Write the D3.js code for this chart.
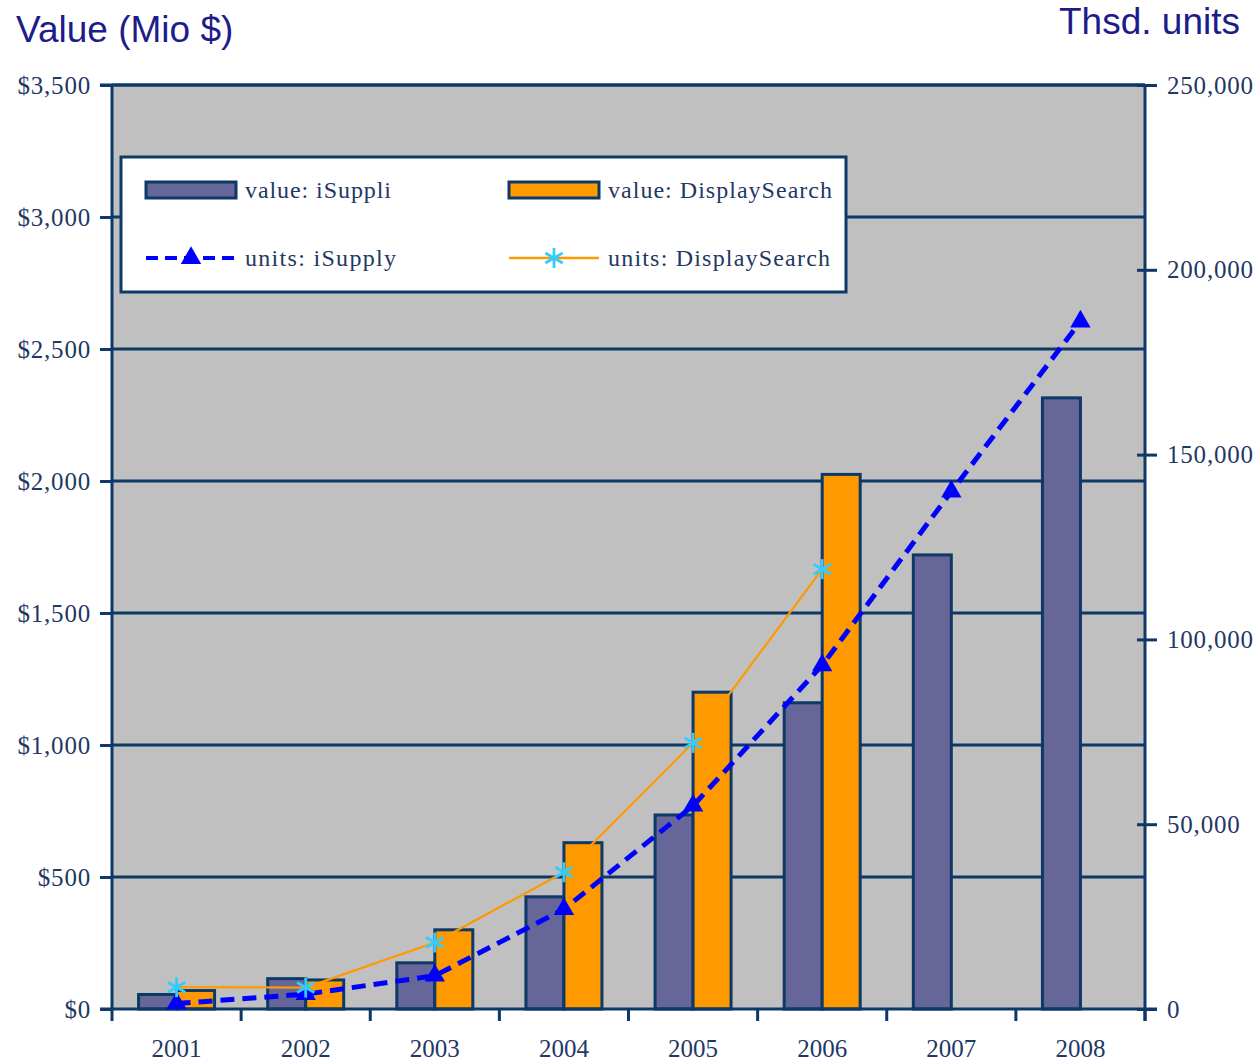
<!DOCTYPE html>
<html>
<head>
<meta charset="utf-8">
<script src="https://cdn.jsdelivr.net/npm/d3@7"></script>
<style>
  html, body { margin: 0; padding: 0; background: #ffffff; }
  svg { display: block; }
</style>
</head>
<body>
<svg id="chart" width="1259" height="1063"></svg>
<script>
// Years on the category axis
const years = ["2001", "2002", "2003", "2004", "2005", "2006", "2007", "2008"];

// Market value, million US$
const valueISuppli = [55, 115, 175, 425, 735, 1160, 1720, 2315];
const valueDisplaySearch = [70, 110, 300, 630, 1200, 2025, null, null];

// Shipments, thousand units
const unitsISupply = [1500, 4000, 9000, 27000, 55000, 93000, 140000, 186000];
const unitsDisplaySearch = [5900, 5800, 18000, 37000, 72000, 119000, null, null];

// Tick values
const valueTicks = [0, 500, 1000, 1500, 2000, 2500, 3000, 3500];
const unitTicks = [0, 50000, 100000, 150000, 200000, 250000];

const navy = "#0d3868";
const textNavy = "#1f3864";
const titleBlue = "#1c1c8a";
const purple = "#666699";
const orange = "#ff9900";
const blue = "#0000ff";
const cyan = "#33ccff";
const serif = "'Liberation Serif', 'Times New Roman', serif";

const svg = d3.select("#chart");
const plot = { left: 112, right: 1145, top: 85, bottom: 1009 };

const x = d3.scaleBand().domain(years).range([plot.left, plot.right]).padding(0);
const yVal = d3.scaleLinear().domain([0, 3500]).range([plot.bottom, plot.top]);
const yUnits = d3.scaleLinear().domain([0, 250000]).range([plot.bottom, plot.top]);

// Plot background
svg.append("rect")
  .attr("x", plot.left).attr("y", plot.top)
  .attr("width", plot.right - plot.left).attr("height", plot.bottom - plot.top)
  .attr("fill", "#c0c0c0");

// Horizontal gridlines on the value scale
svg.append("g").selectAll("line")
  .data(valueTicks.slice(1))
  .join("line")
  .attr("x1", plot.left).attr("x2", plot.right)
  .attr("y1", d => yVal(d)).attr("y2", d => yVal(d))
  .attr("stroke", navy).attr("stroke-width", 3);

// Bars
const barW = 38;
const bars = svg.append("g");
years.forEach((yr, i) => {
  const cx = x(yr) + x.bandwidth() / 2;
  bars.append("rect")
    .attr("x", cx - barW).attr("y", yVal(valueISuppli[i]))
    .attr("width", barW).attr("height", yVal(0) - yVal(valueISuppli[i]))
    .attr("fill", purple).attr("stroke", navy).attr("stroke-width", 3);
  if (valueDisplaySearch[i] != null) {
    bars.append("rect")
      .attr("x", cx).attr("y", yVal(valueDisplaySearch[i]))
      .attr("width", barW).attr("height", yVal(0) - yVal(valueDisplaySearch[i]))
      .attr("fill", orange).attr("stroke", navy).attr("stroke-width", 3);
  }
});

// Axes
const axisG = svg.append("g");
axisG.append("line").attr("x1", plot.left).attr("x2", plot.left)
  .attr("y1", plot.top).attr("y2", plot.bottom).attr("stroke", navy).attr("stroke-width", 3);
axisG.append("line").attr("x1", plot.right).attr("x2", plot.right)
  .attr("y1", plot.top).attr("y2", plot.bottom + 12).attr("stroke", navy).attr("stroke-width", 3);
axisG.append("line").attr("x1", plot.left - 12).attr("x2", plot.right)
  .attr("y1", plot.top).attr("y2", plot.top).attr("stroke", navy).attr("stroke-width", 3);
axisG.append("line").attr("x1", plot.left - 12).attr("x2", plot.right + 12)
  .attr("y1", plot.bottom).attr("y2", plot.bottom).attr("stroke", navy).attr("stroke-width", 3);

// Left value axis
const leftAxis = d3.axisLeft(yVal).tickValues(valueTicks)
  .tickFormat(d => "$" + d3.format(",")(d)).tickSize(12).tickPadding(9);
const gl = svg.append("g").attr("transform", `translate(${plot.left},0)`).call(leftAxis);
gl.select(".domain").remove();
gl.selectAll(".tick line").attr("stroke", navy).attr("stroke-width", 3);
gl.selectAll(".tick text").attr("fill", textNavy)
  .style("font-family", serif).style("font-size", "25px").style("letter-spacing", "0.8px");

// Right units axis
const rightAxis = d3.axisRight(yUnits).tickValues(unitTicks)
  .tickFormat(d3.format(",")).tickSize(12).tickPadding(10);
const gr = svg.append("g").attr("transform", `translate(${plot.right},0)`).call(rightAxis);
gr.select(".domain").remove();
gr.selectAll(".tick line").attr("stroke", navy).attr("stroke-width", 3).attr("x1", -8);
gr.selectAll(".tick text").attr("fill", textNavy)
  .style("font-family", serif).style("font-size", "25px").style("letter-spacing", "0.8px");

// Category axis
const bottomAxis = d3.axisBottom(x).tickSize(0).tickPadding(30);
const gb = svg.append("g").attr("transform", `translate(0,${plot.bottom})`).call(bottomAxis);
gb.select(".domain").remove();
gb.selectAll(".tick text").attr("fill", textNavy)
  .style("font-family", serif).style("font-size", "25px");
// Boundary ticks between categories
svg.append("g").selectAll("line")
  .data(years.map(y => x(y)).concat([plot.right]))
  .join("line")
  .attr("x1", d => d).attr("x2", d => d)
  .attr("y1", plot.bottom).attr("y2", plot.bottom + 12)
  .attr("stroke", navy).attr("stroke-width", 3);

// Unit lines
const cxOf = i => x(years[i]) + x.bandwidth() / 2;

const lineDS = d3.line()
  .defined(d => d != null)
  .x((d, i) => cxOf(i)).y(d => yUnits(d));
svg.append("path").datum(unitsDisplaySearch)
  .attr("d", lineDS).attr("fill", "none")
  .attr("stroke", orange).attr("stroke-width", 2.2);

const lineIS = d3.line()
  .x((d, i) => cxOf(i)).y(d => yUnits(d));
svg.append("path").datum(unitsISupply)
  .attr("d", lineIS).attr("fill", "none")
  .attr("stroke", blue).attr("stroke-width", 5).attr("stroke-dasharray", "14 8");

const triangle = d3.symbol().type(d3.symbolTriangle).size(180);
svg.append("g").selectAll("path")
  .data(unitsISupply)
  .join("path")
  .attr("d", triangle)
  .attr("transform", (d, i) => `translate(${cxOf(i)},${yUnits(d)})`)
  .attr("fill", blue);

function star(g, cx, cy, r) {
  const s = g.append("g").attr("transform", `translate(${cx},${cy})`)
    .attr("stroke", cyan).attr("stroke-width", 2.8);
  s.append("line").attr("x1", 0).attr("x2", 0).attr("y1", -r).attr("y2", r);
  [30, 150].forEach(a => {
    const rad = a * Math.PI / 180;
    s.append("line")
      .attr("x1", -r * Math.cos(rad)).attr("y1", -r * Math.sin(rad))
      .attr("x2", r * Math.cos(rad)).attr("y2", r * Math.sin(rad));
  });
}
const starG = svg.append("g");
unitsDisplaySearch.forEach((d, i) => {
  if (d != null) star(starG, cxOf(i), yUnits(d), 10);
});

// Axis titles
svg.append("text").attr("x", 16).attr("y", 42)
  .attr("fill", titleBlue)
  .style("font-family", "'Liberation Sans', Arial, sans-serif").style("font-size", "37px")
  .text("Value (Mio $)");
svg.append("text").attr("x", 1240).attr("y", 34)
  .attr("text-anchor", "end").attr("fill", titleBlue)
  .style("font-family", "'Liberation Sans', Arial, sans-serif").style("font-size", "37px")
  .text("Thsd. units");

// Legend
const legend = svg.append("g");
legend.append("rect").attr("x", 121).attr("y", 157).attr("width", 725).attr("height", 135)
  .attr("fill", "#ffffff").attr("stroke", navy).attr("stroke-width", 3);

const legendItems = [
  { label: "value: iSuppli", kind: "bar", color: purple, x: 146, y: 190, w: 146 },
  { label: "value: DisplaySearch", kind: "bar", color: orange, x: 509, y: 190, w: 224 },
  { label: "units: iSupply", kind: "dash", color: blue, x: 146, y: 258, w: 151 },
  { label: "units: DisplaySearch", kind: "star", color: orange, x: 509, y: 258, w: 222 }
];
legendItems.forEach(it => {
  if (it.kind === "bar") {
    legend.append("rect").attr("x", it.x).attr("y", it.y - 8).attr("width", 90).attr("height", 16)
      .attr("fill", it.color).attr("stroke", navy).attr("stroke-width", 3);
  } else if (it.kind === "dash") {
    legend.append("line").attr("x1", it.x).attr("x2", it.x + 90)
      .attr("y1", it.y).attr("y2", it.y)
      .attr("stroke", blue).attr("stroke-width", 4).attr("stroke-dasharray", "12 7");
    legend.append("path").attr("d", triangle)
      .attr("transform", `translate(${it.x + 45},${it.y})`).attr("fill", blue);
  } else {
    legend.append("line").attr("x1", it.x).attr("x2", it.x + 90)
      .attr("y1", it.y).attr("y2", it.y)
      .attr("stroke", orange).attr("stroke-width", 2.5);
    star(legend, it.x + 45, it.y, 10);
  }
  legend.append("text").attr("x", it.x + 99).attr("y", it.y + 8)
    .attr("fill", textNavy)
    .attr("textLength", it.w).attr("lengthAdjust", "spacing")
    .style("font-family", serif).style("font-size", "24px")
    .text(it.label);
});
</script>
</body>
</html>
